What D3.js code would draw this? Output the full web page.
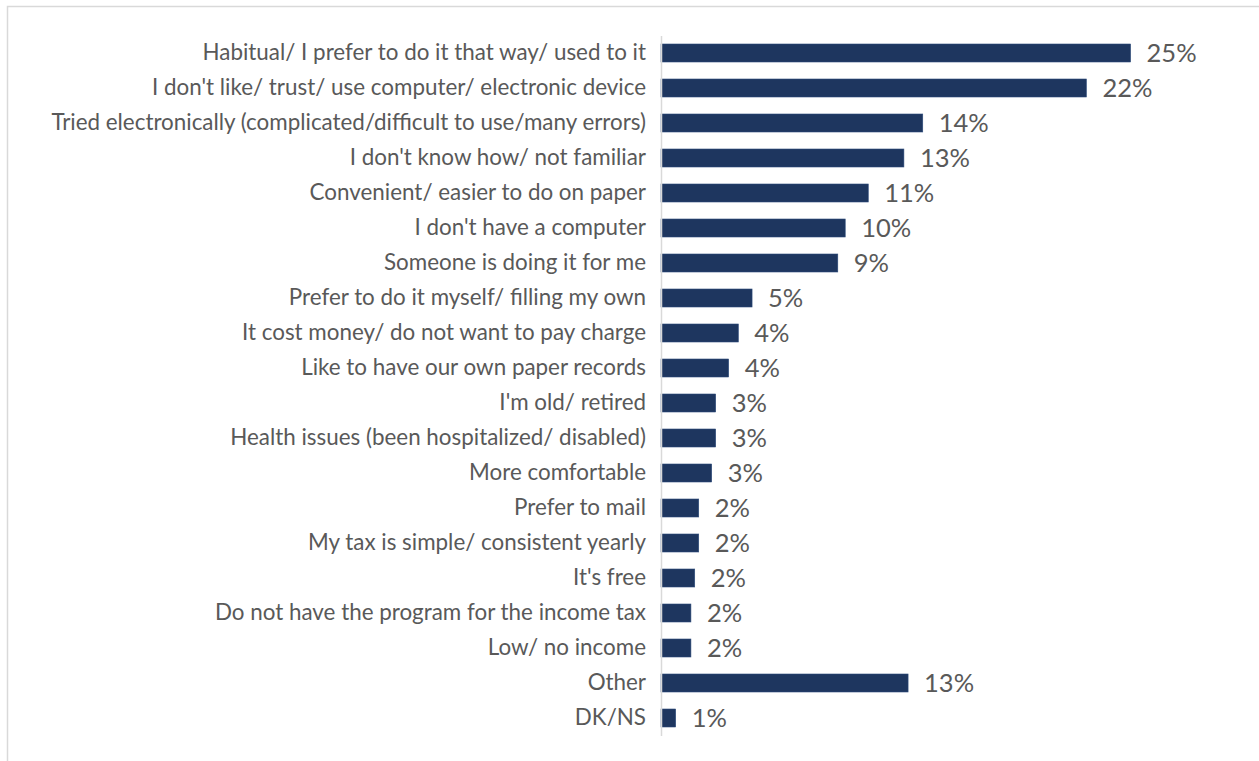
<!DOCTYPE html>
<meta charset="utf-8">
<style>
body { margin: 0; background: #fff; font-family: Lato, sans-serif; }
.frame { fill: none; stroke: #d9d9d9; stroke-width: 1.5; }
.bar { fill: #1e365f; stroke: #2c4a7a; stroke-width: 0.6; }
.cat { font-size: 22.4px; fill: #595959; }
.val { font-size: 25.5px; fill: #595959; }
.axis path, .axis line { stroke: #d9d9d9; stroke-width: 1.5; }
</style>
<body>
<script src="https://d3js.org/d3.v7.min.js"></script>
<script>
// reasons (top to bottom) and share of respondents, in percent
var reasons = [
  "Habitual/ I prefer to do it that way/ used to it",
  "I don't like/ trust/ use computer/ electronic device",
  "Tried electronically (complicated/difficult to use/many errors)",
  "I don't know how/ not familiar",
  "Convenient/ easier to do on paper",
  "I don't have a computer",
  "Someone is doing it for me",
  "Prefer to do it myself/ filling my own",
  "It cost money/ do not want to pay charge",
  "Like to have our own paper records",
  "I'm old/ retired",
  "Health issues (been hospitalized/ disabled)",
  "More comfortable",
  "Prefer to mail",
  "My tax is simple/ consistent yearly",
  "It's free",
  "Do not have the program for the income tax",
  "Low/ no income",
  "Other",
  "DK/NS"
];
var shares = [24.65, 22.33, 13.74, 12.75, 10.88, 9.67, 9.28, 4.78, 4.06, 3.55,
              2.87, 2.87, 2.66, 1.98, 1.98, 1.77, 1.57, 1.57, 12.97, 0.77];

var width = 1259, height = 761;
var margin = {top: 35.5, left: 661, bottom: 25.5};

var data = reasons.map(function(r, i) { return {reason: r, value: shares[i]}; });

var svg = d3.select("body").append("svg")
    .attr("width", width)
    .attr("height", height);

// chart frame (runs past the right and bottom edges in the original)
svg.append("rect")
    .attr("class", "frame")
    .attr("x", 7.5)
    .attr("y", 6.5)
    .attr("width", 1400)
    .attr("height", 900);

var x = d3.scaleLinear()
    .domain([0, 25])
    .range([0, 25 * 19.05]);

var y = d3.scaleBand()
    .domain(reasons)
    .range([margin.top, height - margin.bottom])
    .paddingInner(0.486)
    .paddingOuter(0.243);

var g = svg.append("g")
    .attr("transform", "translate(" + margin.left + ",0)");

g.selectAll(".bar")
    .data(data)
  .enter().append("rect")
    .attr("class", "bar")
    .attr("x", 0)
    .attr("y", function(d) { return y(d.reason); })
    .attr("width", function(d) { return x(d.value); })
    .attr("height", y.bandwidth());

// category axis on the left, no ticks
var yAxis = g.append("g")
    .attr("class", "axis")
    .call(d3.axisLeft(y).tickSize(0).tickPadding(15));
yAxis.attr("font-family", null).attr("font-size", null);
yAxis.selectAll("text").attr("class", "cat");

g.selectAll(".val")
    .data(data)
  .enter().append("text")
    .attr("class", "val")
    .attr("x", function(d) { return x(d.value) + 16; })
    .attr("y", function(d) { return y(d.reason) + y.bandwidth() / 2; })
    .attr("dy", "0.36em")
    .text(function(d) { return Math.round(d.value) + "%"; });
</script>
</body>
